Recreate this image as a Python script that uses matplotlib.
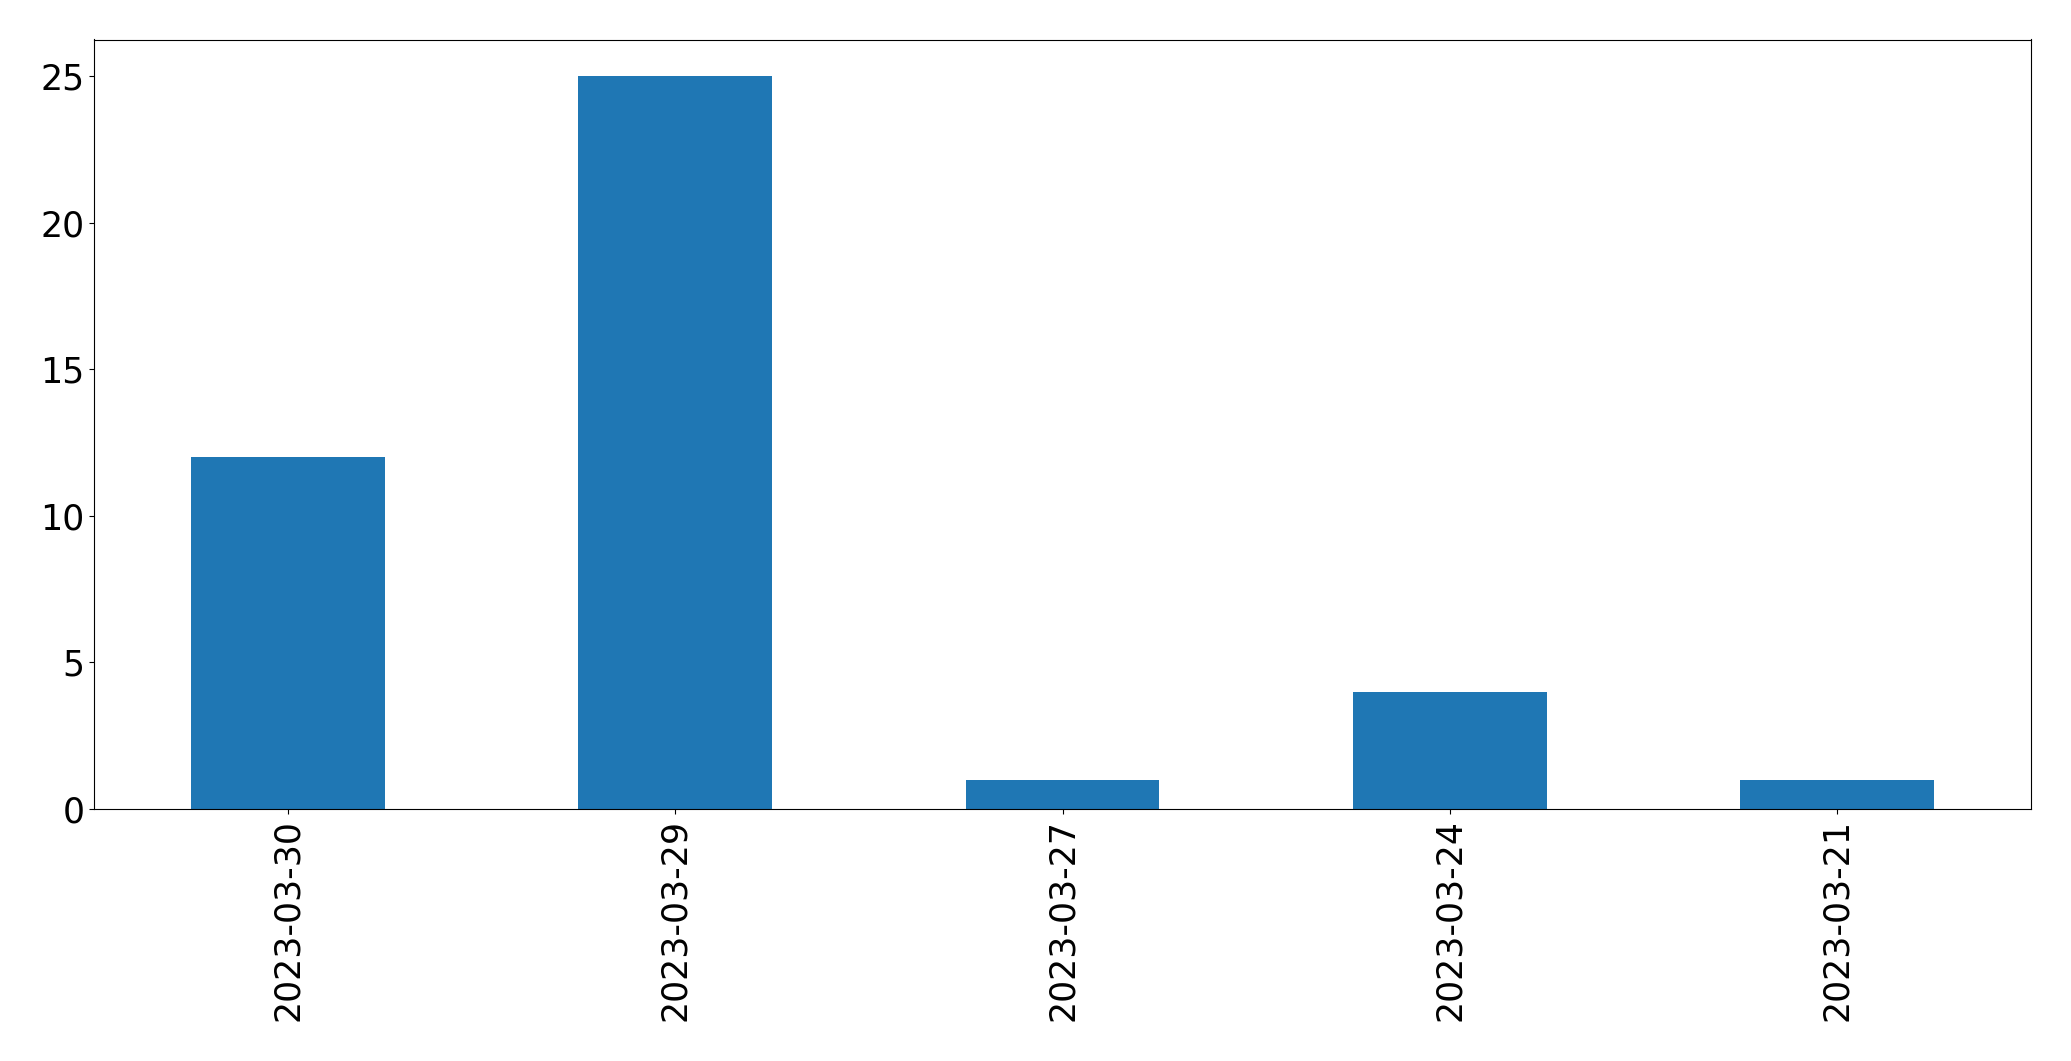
import matplotlib
matplotlib.use("Agg")
import pandas as pd
import matplotlib.pyplot as plt

# dates (in order shown) and counts per date
dates = ['2023-03-30', '2023-03-29', '2023-03-27', '2023-03-24', '2023-03-21']
counts = [12, 25, 1, 4, 1]

s = pd.Series(counts, index=dates)

fig = plt.figure(figsize=(20.71, 10.61), dpi=100)
ax = fig.add_subplot(1, 1, 1)
s.plot(kind='bar', ax=ax, fontsize=25)
fig.subplots_adjust(left=94/2071, right=2031/2071, top=1-39.5/1061, bottom=1-809/1061)

fig.savefig('out.png', dpi=100)
